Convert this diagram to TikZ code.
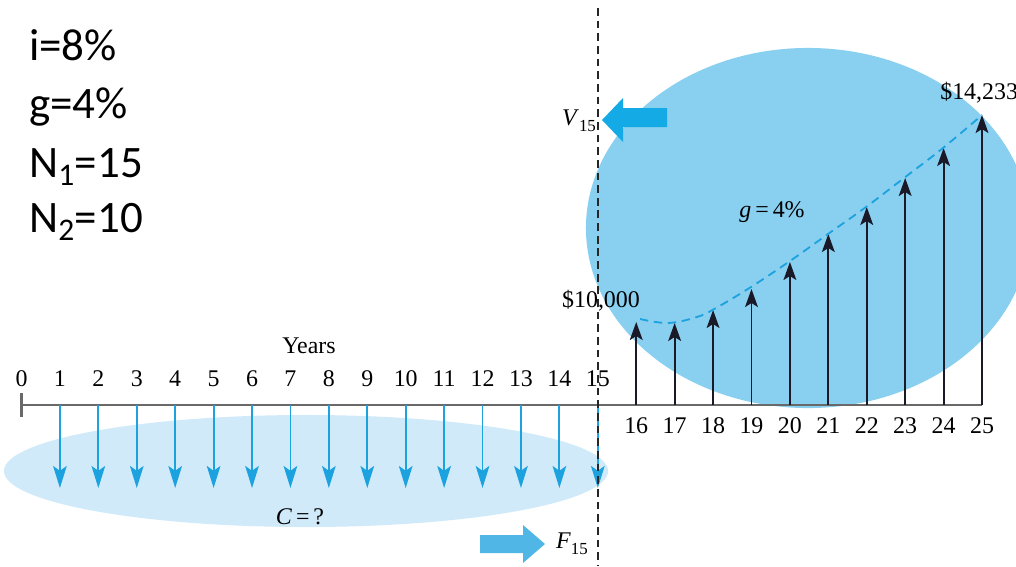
\documentclass[tikz,border=0pt]{standalone}
\usepackage{fontspec}
\setmainfont{Liberation Serif}
\newfontfamily\calib{Carlito}
\usetikzlibrary{arrows.meta}
\definecolor{bigblue}{RGB}{137,207,240}
\definecolor{paleblue}{RGB}{208,234,249}
\definecolor{arrblue}{RGB}{28,162,222}
\definecolor{vblue}{RGB}{20,170,230}
\definecolor{fblue}{RGB}{80,182,230}
\definecolor{axisgray}{RGB}{105,105,105}
\definecolor{upblack}{RGB}{25,25,40}
\begin{document}
\begin{tikzpicture}[x=0.025cm,y=-0.025cm,
  lbl/.style={inner sep=0pt,font=\fontsize{17}{19}\selectfont},
  given/.style={inner sep=0pt,anchor=base west,font=\calib\fontsize{32}{36}\selectfont},
  downarr/.style={arrblue,line width=1.3pt,-{Stealth[length=0.55cm,width=0.34cm,inset=0.12cm]}},
  uparr/.style={upblack,line width=1.3pt,-{Stealth[length=0.45cm,width=0.32cm,inset=0.1cm]}},
  axis/.style={axisgray,line width=1.6pt},
  growth/.style={arrblue,line width=1.3pt,dash pattern=on 6pt off 4pt},
  divider/.style={black!85,line width=0.9pt,dash pattern=on 5.5pt off 3.5pt}]
\useasboundingbox (0,0) rectangle (1016,566);
\clip (0,0) rectangle (1016,566);
% background shapes
\fill[bigblue] (808,228) ellipse [x radius=5.55cm, y radius=4.5cm];
\fill[paleblue] (306,471) ellipse [x radius=7.55cm, y radius=1.4cm];
% coordinates on the time axis
\foreach \k in {0,...,25}{
  \coordinate (t\k) at ({21.5+38.42*\k},405);
}
% axis
\draw[axis] (t0) -- (t25);
\coordinate (tk0a) at (21.5,393);
\coordinate (tk0b) at (21.5,417);
\draw[axis] (tk0a) -- (tk0b);
% labels 0..15
\foreach \k in {0,...,15}{
  \node[lbl] (n\k) at ({21.5+38.42*\k},379) {\k};
}
\foreach \k in {16,...,25}{
  \node[lbl] (n\k) at ({21.5+38.42*\k},426) {\k};
}
\node[lbl] (years) at (309,346) {Years};
% down arrows
\foreach \k in {1,...,15}{
  \coordinate (d\k) at ({21.5+38.42*\k},488);
  \draw[downarr] (t\k) -- (d\k);
}
% up arrows
\foreach \k/\h in {16/322,17/323,18/310,19/289,20/262,21/234,22/207,23/178,24/148,25/115}{
  \coordinate (u\k) at ({21.5+38.42*\k},\h);
  \draw[uparr] (t\k) -- (u\k);
}
% growth curve
\draw[growth] plot[smooth,tension=0.6] coordinates {(640,319) (668,323) (697,317) (716,308) (751,287) (790,261) (828,234) (866,207) (904,178) (943,148) (982,115)};
% divider
\coordinate (divtop) at (598,8);
\coordinate (divbot) at (598,566);
\draw[divider] (divtop) -- (divbot);
% V15 block arrow
\fill[vblue] (602,120) -- (623,98) -- (623,108) -- (667,108) -- (667,127) -- (623,127) -- (623,142) -- cycle;
% F15 block arrow
\fill[fblue] (480,535) -- (523,535) -- (523,525) -- (545,544) -- (523,563) -- (523,553) -- (480,553) -- cycle;
% texts
\node[lbl] (v15) at (579,121) {\textit{V}\raisebox{-0.55ex}{\fontsize{12}{12}\selectfont 15}};
\node[lbl] (f15) at (572,544) {\textit{F}\raisebox{-0.55ex}{\fontsize{12}{12}\selectfont 15}};
\node[lbl] (cq) at (300,517) {\textit{C}\,=\,?};
\node[lbl] (g4) at (772,212) {\textit{g}\,=\,4\%};
\node[lbl] (p10) at (601,301) {\$10,000};
\node[lbl,anchor=west] (p14) at (940,93) {\$14,233};
% given data
\node[given] (gi) at (29,60) {i=8\%};
\node[given] (gg) at (29,118) {g=4\%};
\node[given] (gn1) at (29,177) {N\textsubscript{1}=15};
\node[given] (gn2) at (29,232) {N\textsubscript{2}=10};
\end{tikzpicture}
\end{document}
